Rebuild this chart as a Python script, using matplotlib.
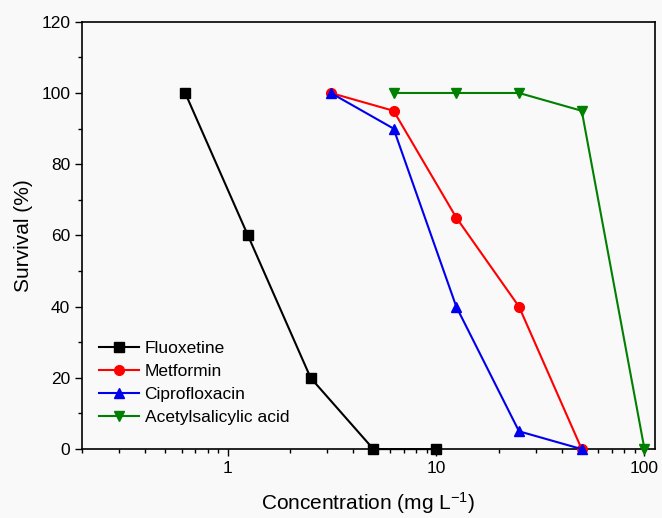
import numpy as np
import matplotlib
matplotlib.use("Agg")
import matplotlib.pyplot as plt
from matplotlib.ticker import LogLocator, MultipleLocator, NullFormatter

plt.rcParams['font.family'] = ['Liberation Sans', 'DejaVu Sans']
plt.rcParams['mathtext.default'] = 'regular'

#Data
fluox_x = [0.625, 1.25, 2.5, 5, 10]
fluox_y = [100, 60, 20, 0, 0]
metf_x = [3.125, 6.25, 12.5, 25, 50]
metf_y = [100, 95, 65, 40, 0]
cipro_x = [3.125, 6.25, 12.5, 25, 50]
cipro_y = [100, 90, 40, 5, 0]
asa_x = [6.25, 12.5, 25, 50, 100]
asa_y = [100, 100, 100, 95, 0]

fig = plt.figure(figsize=(6.62, 5.18), dpi=100, facecolor='#f9f9f9')
ax = fig.add_axes([0.124, 0.133, 0.865, 0.825], facecolor='#f9f9f9')

ax.plot(fluox_x, fluox_y, '-s', color='black', lw=1.5, ms=6.5, label='Fluoxetine', clip_on=False, zorder=3)
ax.plot(metf_x, metf_y, '-o', color='red', lw=1.5, ms=7, label='Metformin', clip_on=False, zorder=3)
ax.plot(cipro_x, cipro_y, '-^', color='#0000ee', lw=1.5, ms=7.5, label='Ciprofloxacin', clip_on=False, zorder=3)
ax.plot(asa_x, asa_y, '-v', color='green', lw=1.5, ms=7.5, label='Acetylsalicylic acid', clip_on=False, zorder=3)

ax.set_xscale('log')
ax.set_xlim(0.2, 112)
ax.set_ylim(0, 120)
ax.set_xticks([1, 10, 100])
ax.set_xticklabels(['1', '10', '100'])
ax.xaxis.set_minor_locator(LogLocator(base=10, subs=np.arange(2, 10)))
ax.xaxis.set_minor_formatter(NullFormatter())
ax.yaxis.set_major_locator(MultipleLocator(20))
ax.yaxis.set_minor_locator(MultipleLocator(10))

ax.tick_params(which='major', direction='out', length=5, width=1, labelsize=12.5)
ax.tick_params(which='minor', direction='out', length=3, width=1)
for s in ax.spines.values():
    s.set_linewidth(1.2)

ax.set_xlabel('Concentration (mg L$^{-1}$)', fontsize=15, labelpad=10)
ax.set_ylabel('Survival (%)', fontsize=15, labelpad=6)

ax.legend(loc='lower left', bbox_to_anchor=(0.0, 0.015), frameon=False, fontsize=12.5,
          handlelength=2.3, handletextpad=0.3, labelspacing=0.45, borderaxespad=0.6)

plt.savefig('out.png', dpi=100, facecolor=fig.get_facecolor())
